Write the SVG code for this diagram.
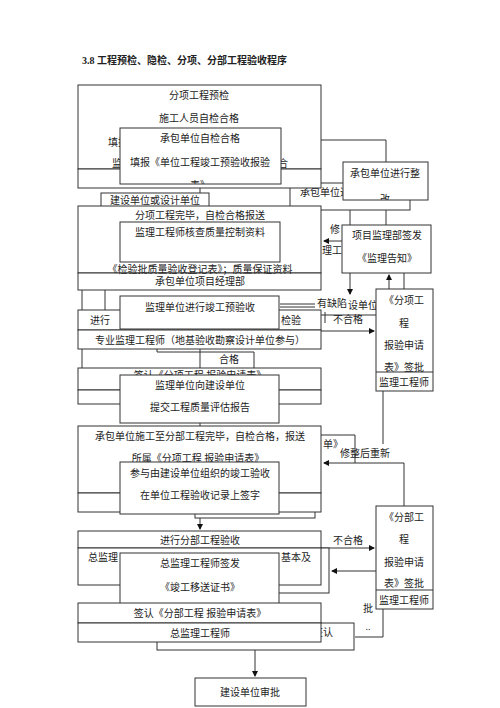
<svg xmlns="http://www.w3.org/2000/svg" width="500" height="708" viewBox="0 0 500 708">
<style>
.b{fill:#fff;stroke:#333;stroke-width:1}
.l{fill:none;stroke:#333;stroke-width:1}
.t{font-family:"Liberation Serif","Noto Sans CJK SC",serif;font-size:10px;fill:#222;text-anchor:middle}
.s{text-anchor:start}
.h{font-weight:bold;text-anchor:start}
</style>
<defs>
<marker id="a" markerWidth="6" markerHeight="6" refX="5" refY="3" orient="auto" markerUnits="userSpaceOnUse"><path d="M0,0 L6,3 L0,6 Z" fill="#111"/></marker>
<clipPath id="cB"><rect x="120" y="128" width="161" height="56"/></clipPath>
<clipPath id="cD"><rect x="343" y="162" width="85" height="38"/></clipPath>
<clipPath id="cN"><rect x="376" y="289" width="57" height="83"/></clipPath>
</defs>
<rect width="500" height="708" fill="#fff"/>
<text class="t h" x="82" y="64" font-size="10.3">3.8 工程预检、隐检、分项、分部工程验收程序</text>

<g id="connectors">
<path class="l" d="M386,162 V140 H283" marker-end="url(#a)"/>
<path class="l" d="M200,184 V205" marker-end="url(#a)"/>
<path class="l" d="M200,206 V220" marker-end="url(#a)"/>
<path class="l" d="M342,241 H324" marker-end="url(#a)"/>
<path class="l" d="M386,225 V202" marker-end="url(#a)"/>
<path class="l" d="M350,273 V294" marker-end="url(#a)"/>
<path class="l" d="M404,273 V289"/>
<path class="l" d="M350,210 V225"/>
<path class="l" d="M280,315 H389 V275" marker-end="url(#a)"/>
<path class="l" d="M280,304 H315 M280,307 H315"/>
<path class="l" d="M325,312 V323"/>
<path class="l" d="M321,331 H374" marker-end="url(#a)"/>
<path class="l" d="M200,329 V373" marker-end="url(#a)"/>
<path class="l" d="M383,391 V444"/>
<path class="l" d="M321,435 H355 V463"/>
<path class="l" d="M404,506 V463 H324" marker-end="url(#a)"/>
<path class="l" d="M200,423 V460" marker-end="url(#a)"/>
<path class="l" d="M200,514 V529" marker-end="url(#a)"/>
<path class="l" d="M200,540 V551" marker-end="url(#a)"/>
<path class="l" d="M321,548 H374" marker-end="url(#a)"/>
<path class="l" d="M376,571 H332" marker-end="url(#a)"/>
<path class="l" d="M383,609 V637 H355"/>
<path class="l" d="M255,650 V676" marker-end="url(#a)"/>
<path class="l" d="M82,290 V368 M105,290 V310"/>
<path class="l" d="M157,349 V352 H254 V368"/>
</g>

<g id="back">
<rect class="b" x="290" y="183" width="120" height="27"/>
<text class="t s" x="300" y="196">承包单位进</text>
<text class="t s" x="330" y="233">修</text>
<text class="t s" x="322" y="254">理工程</text>
<text class="t s" x="317" y="307">有缺陷</text>
<text class="t s" x="348" y="309">设单位</text>
<text class="t" x="348" y="323">不合格</text>
<rect class="b" x="195" y="505" width="120" height="13"/>
<rect class="b" x="250" y="548" width="79" height="45"/>
<rect class="b" x="157" y="623" width="197" height="27"/>
<text class="t s" x="313" y="636">签认</text>
<text class="t s" x="323" y="448">单》</text>
<text class="t" x="365" y="457">修整后重新</text>
<text class="t" x="348" y="544">不合格</text>
<text class="t" x="368" y="612">批</text>
<text class="t" x="368" y="630">..</text>
<text class="t" x="229" y="363">合格</text>
</g>

<g id="n1">
<rect class="b" x="78" y="85" width="243" height="84"/>
<rect class="b" x="78" y="169" width="243" height="19"/>
<text class="t" x="199" y="99">分项工程预检</text>
<text class="t" x="199" y="122">施工人员自检合格</text>
<text class="t s" x="108" y="146">填报</text>
<text class="t s" x="112" y="167">监理</text>
<text class="t s" x="278" y="167">合</text>
</g>
<g id="n2">
<rect class="b" x="120" y="128" width="161" height="56"/>
<text class="t" x="200" y="142">承包单位自检合格</text>
<text class="t" x="200" y="166">填报《单位工程竣工预验收报验</text>
<text class="t" x="200" y="189" clip-path="url(#cB)">表》</text>
</g>
<g id="n3">
<rect class="b" x="343" y="162" width="85" height="38"/>
<text class="t" x="385" y="177">承包单位进行整</text>
<text class="t" x="385" y="203" clip-path="url(#cD)">改</text>
</g>
<g id="n4">
<rect class="b" x="101" y="193" width="108" height="22"/>
<text class="t" x="155" y="204">建设单位或设计单位</text>
</g>
<g id="n5">
<rect class="b" x="78" y="206" width="243" height="67"/>
<rect class="b" x="78" y="273" width="243" height="17"/>
<text class="t" x="200" y="219">分项工程完毕，自检合格报送</text>
<text class="t" x="200" y="273">《检验批质量验收登记表》；质量保证资料</text>
<text class="t" x="200" y="285">承包单位项目经理部</text>
</g>
<g id="n6">
<rect class="b" x="120" y="222" width="160" height="40"/>
<text class="t" x="200" y="236">监理工程师核查质量控制资料</text>
</g>
<g id="n7">
<rect class="b" x="342" y="225" width="89" height="48"/>
<text class="t" x="387" y="239">项目监理部签发</text>
<text class="t" x="387" y="262">《监理告知》</text>
</g>
<g id="n8">
<rect class="b" x="78" y="310" width="243" height="20"/>
<text class="t s" x="90" y="324">进行</text>
<text class="t s" x="281" y="324">检验</text>
<rect class="b" x="78" y="330" width="243" height="19"/>
<text class="t" x="200" y="344">专业监理工程师（地基验收勘察设计单位参与）</text>
</g>
<g id="n9">
<rect class="b" x="120" y="296" width="159" height="33"/>
<text class="t" x="200" y="311">监理单位进行竣工预验收</text>
</g>
<g id="n10">
<rect class="b" x="376" y="289" width="57" height="102"/>
<line class="l" x1="376" y1="372" x2="433" y2="372"/>
<text class="t" x="404" y="304">《分项工</text>
<text class="t" x="404" y="327">程</text>
<text class="t" x="404" y="349">报验申请</text>
<text class="t" x="404" y="371" clip-path="url(#cN)">表》签批</text>
<text class="t" x="404" y="386">监理工程师</text>
</g>
<g id="n11">
<rect class="b" x="78" y="368" width="243" height="22"/>
<rect class="b" x="78" y="390" width="243" height="14"/>
<text class="t" x="200" y="378.5">签认《分项工程 报验申请表》</text>
</g>
<g id="n12">
<rect class="b" x="120" y="375" width="159" height="48"/>
<text class="t" x="200" y="389">监理单位向建设单位</text>
<text class="t" x="200" y="411">提交工程质量评估报告</text>
</g>
<g id="n13">
<rect class="b" x="78" y="426" width="243" height="67"/>
<rect class="b" x="78" y="493" width="243" height="19"/>
<text class="t" x="200" y="440">承包单位施工至分部工程完毕，自检合格，报送</text>
<text class="t" x="198" y="462">所属《分项工程 报验申请表》</text>
</g>
<g id="n14">
<rect class="b" x="120" y="462" width="159" height="52"/>
<text class="t" x="200" y="477">参与由建设单位组织的竣工验收</text>
<text class="t" x="200" y="499">在单位工程验收记录上签字</text>
</g>
<g id="n15">
<rect class="b" x="78" y="531" width="243" height="17"/>
<text class="t" x="200" y="544">进行分部工程验收</text>
<rect class="b" x="78" y="548" width="243" height="37"/>
<text class="t s" x="88" y="561">总监理</text>
<text class="t s" x="281" y="561">基本及</text>
</g>
<g id="n16">
<rect class="b" x="120" y="553" width="159" height="56"/>
<text class="t" x="200" y="567">总监理工程师签发</text>
<text class="t" x="200" y="591">《竣工移送证书》</text>
</g>
<g id="n17">
<rect class="b" x="376" y="506" width="57" height="103"/>
<line class="l" x1="376" y1="590" x2="433" y2="590"/>
<text class="t" x="404" y="521">《分部工</text>
<text class="t" x="404" y="543">程</text>
<text class="t" x="404" y="566">报验申请</text>
<text class="t" x="404" y="587">表》签批</text>
<text class="t" x="404" y="604">监理工程师</text>
</g>
<g id="n18">
<rect class="b" x="78" y="603" width="243" height="20"/>
<text class="t" x="200" y="617">签认《分部工程 报验申请表》</text>
<rect class="b" x="78" y="623" width="243" height="19"/>
<text class="t" x="200" y="637">总监理工程师</text>
</g>
<g id="n19">
<rect class="b" x="195" y="678" width="111" height="28"/>
<text class="t" x="250" y="696">建设单位审批</text>
</g>
</svg>
